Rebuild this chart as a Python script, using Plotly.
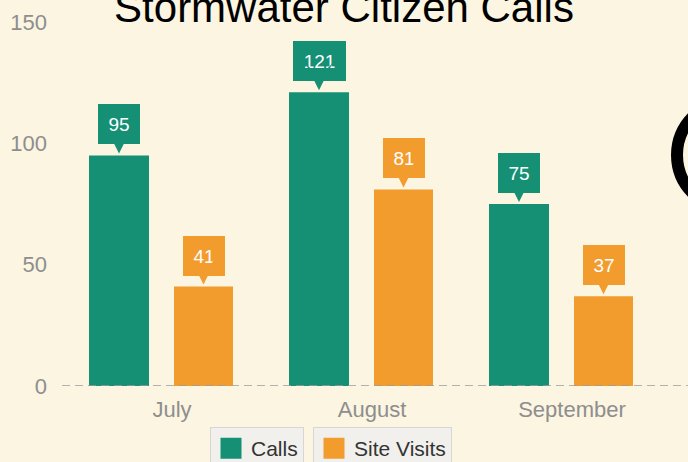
import plotly.graph_objects as go

months = ["July", "August", "September"]
calls = [95, 121, 75]
site_visits = [41, 81, 37]
y_ticks = [0, 50, 100, 150]

TEAL = "#159075"
ORANGE = "#f29c2d"
BG = "#fbf5e1"
FONT = "Liberation Sans"

W, H = 688, 462
ML, MR, MT, MB = 62, 0, 22, 76
PW, PH = W - ML - MR, H - MT - MB

CALL_OFF, CALL_W = -0.415, 0.30
VIS_OFF, VIS_W = 0.01, 0.295

fig = go.Figure()
fig.add_trace(go.Bar(x=months, y=calls, name="Calls", marker=dict(color=TEAL, line=dict(width=0)),
                     offset=CALL_OFF, width=CALL_W, showlegend=False))
fig.add_trace(go.Bar(x=months, y=site_visits, name="Site Visits", marker=dict(color=ORANGE, line=dict(width=0)),
                     offset=VIS_OFF, width=VIS_W, showlegend=False))
# legend-only entries (larger swatches)
fig.add_trace(go.Scatter(x=[None], y=[None], mode="markers", name="Calls",
                         marker=dict(symbol="square", size=16, color=TEAL, line=dict(color=TEAL, width=5)),
                         legend="legend"))
fig.add_trace(go.Scatter(x=[None], y=[None], mode="markers", name="Site Visits",
                         marker=dict(symbol="square", size=16, color=ORANGE, line=dict(color=ORANGE, width=5)),
                         legend="legend2"))

annotations = []
for series, off, wd, col in [(calls, CALL_OFF, CALL_W, TEAL), (site_visits, VIS_OFF, VIS_W, ORANGE)]:
    for i, v in enumerate(series):
        txt = str(v)
        annotations.append(dict(
            x=i + off + wd / 2, y=v, xref="x", yref="y", text=txt,
            showarrow=True, arrowhead=3, arrowsize=3, arrowwidth=1.5, arrowcolor=col,
            ax=0, ay=-31, standoff=2,
            bgcolor=col, bordercolor=col, borderwidth=1, borderpad=4,
            width=11 * len(txt) + 10, height=30,
            font=dict(family=FONT, size=19, color="white"),
        ))

shapes = [
    dict(type="line", xref="paper", x0=0, x1=1, yref="y", y0=0, y1=0,
         line=dict(color="#9a9a9a", width=1.5, dash="8px,5px"), layer="above"),
    dict(type="circle", xref="paper", yref="paper",
         x0=(677 - ML) / PW, x1=(785 - ML) / PW,
         y0=(MT + PH - 209) / PH, y1=(MT + PH - 101) / PH,
         line=dict(color="black", width=12)),
]

legend_common = dict(orientation="h", xanchor="left", yanchor="top",
                     bgcolor="rgba(238,238,238,0.85)", bordercolor="#d6d6d6", borderwidth=1,
                     font=dict(family=FONT, size=21, color="#333333"), itemwidth=30)

fig.update_layout(
    width=W, height=H,
    margin=dict(l=ML, r=MR, t=MT, b=MB, autoexpand=False),
    paper_bgcolor=BG, plot_bgcolor=BG,
    font=dict(family=FONT),
    title=dict(text="Stormwater Citizen Calls", x=0.5, xanchor="center",
               y=1 - 7 / H, yanchor="middle", font=dict(family=FONT, size=42, color="black")),
    xaxis=dict(range=[-0.55, 2.58], showgrid=False, zeroline=False, showline=False,
               tickfont=dict(family=FONT, size=22, color="#8e8e8e"), ticklabelstandoff=8),
    yaxis=dict(range=[0, 150], tickvals=y_ticks, showgrid=False, zeroline=False, showline=False,
               tickfont=dict(family=FONT, size=22, color="#8e8e8e"), ticklabelstandoff=14),
    legend=dict(x=(210 - ML) / PW, y=(MT + PH - 427) / PH, **legend_common),
    legend2=dict(x=(313 - ML) / PW, y=(MT + PH - 427) / PH, **legend_common),
    annotations=annotations,
    shapes=shapes,
)

fig.write_html(
    "out.html",
    config={"displayModeBar": False},
    post_script="document.body.style.margin='0';document.body.style.padding='0';"
                "document.body.style.background='" + BG + "';document.documentElement.style.background='" + BG + "';",
)
